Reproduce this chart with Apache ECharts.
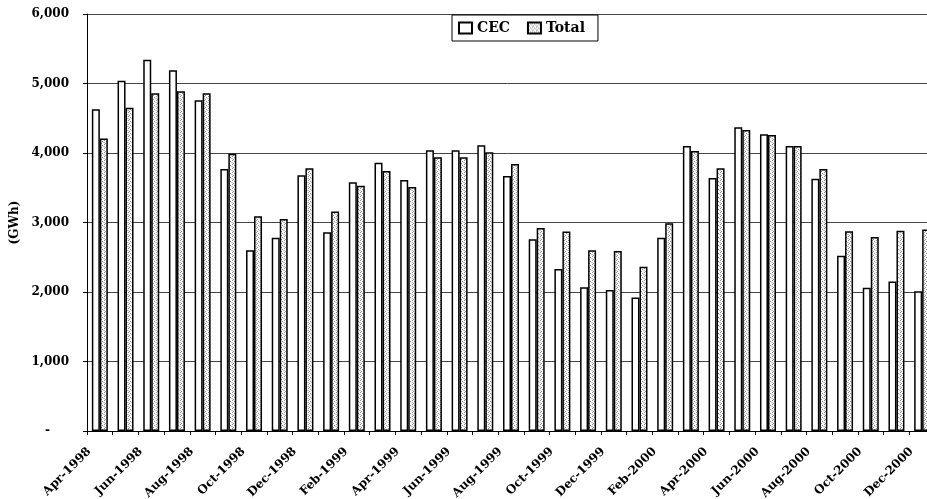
<!DOCTYPE html>
<html>
<head>
<meta charset="utf-8">
<script src="https://cdn.jsdelivr.net/npm/echarts@6/dist/echarts.min.js"></script>
<style>
html,body{margin:0;padding:0;background:#fff;}
#chart{width:927px;height:499px;}
</style>
</head>
<body>
<div id="chart"></div>
<script>
var categories = ['Apr-1998','May-1998','Jun-1998','Jul-1998','Aug-1998','Sep-1998','Oct-1998','Nov-1998','Dec-1998',
  'Jan-1999','Feb-1999','Mar-1999','Apr-1999','May-1999','Jun-1999','Jul-1999','Aug-1999','Sep-1999','Oct-1999','Nov-1999','Dec-1999',
  'Jan-2000','Feb-2000','Mar-2000','Apr-2000','May-2000','Jun-2000','Jul-2000','Aug-2000','Sep-2000','Oct-2000','Nov-2000','Dec-2000'];
var cecValues = [4630,5040,5340,5190,4760,3770,2600,2780,3680,
  2860,3580,3860,3610,4040,4040,4110,3670,2760,2330,2070,2030,
  1920,2780,4100,3640,4370,4270,4100,3630,2520,2060,2150,2010];
var totalValues = [4210,4650,4860,4890,4860,3990,3090,3050,3780,
  3160,3530,3740,3510,3940,3940,4010,3840,2920,2870,2600,2590,
  2365,2990,4030,3780,4330,4260,4100,3770,2875,2790,2880,2900];
var yTicks = [0,1000,2000,3000,4000,5000,6000];

// stipple pattern for the Total series
var pc = document.createElement('canvas');
pc.width = 4; pc.height = 4;
var g = pc.getContext('2d');
g.fillStyle = '#ffffff'; g.fillRect(0,0,4,4);
g.fillStyle = '#8a8a8a'; g.fillRect(0,0,1,1); g.fillRect(2,1,1,1); g.fillRect(1,3,1,1);
g.fillStyle = '#c4c4c4'; g.fillRect(3,2,1,1); g.fillRect(0,2,1,1);

var FONT = 'DejaVu Serif';
var chart = echarts.init(document.getElementById('chart'), null, {renderer:'canvas'});
chart.setOption({
  animation: false,
  backgroundColor: '#ffffff',
  grid: {left: 87, top: 14, width: 848, height: 417, containLabel: false, outerBoundsMode: 'none'},
  legend: {
    left: 452, top: 15,
    itemWidth: 13, itemHeight: 11, itemGap: 17,
    padding: [6, 13, 6, 6],
    borderColor: '#000', borderWidth: 1,
    icon: 'rect',
    textStyle: {fontFamily: FONT, fontWeight: 'bold', fontSize: 14, color: '#000'},
    data: ['CEC', 'Total']
  },
  xAxis: {
    type: 'category',
    data: categories,
    boundaryGap: true,
    axisLine: {lineStyle: {color: '#000', width: 1}},
    axisTick: {show: true, interval: 0, length: 4, lineStyle: {color: '#000'}},
    axisLabel: {interval: 1, rotate: 45, margin: 8, padding: [0, 15, 0, 0],
      fontFamily: FONT, fontWeight: 'bold', fontSize: 12, color: '#000'}
  },
  yAxis: {
    type: 'value',
    min: yTicks[0], max: yTicks[yTicks.length-1], interval: 1000,
    name: '(GWh)', nameLocation: 'middle', nameGap: 48, nameRotate: 90,
    nameTextStyle: {fontFamily: FONT, fontWeight: 'bold', fontSize: 12, color: '#000'},
    axisLine: {show: true, lineStyle: {color: '#000', width: 1}},
    axisTick: {show: true, length: 4, lineStyle: {color: '#000'}},
    splitLine: {show: true, lineStyle: {color: '#444', width: 1}},
    axisLabel: {
      margin: 18,
      fontFamily: FONT, fontWeight: 'bold', fontSize: 12, color: '#000',
      formatter: function (v) {
        if (v === 0) return '{d|-}';
        return v.toString().replace(/\B(?=(\d{3})+(?!\d))/g, ',');
      },
      rich: {d: {fontFamily: FONT, fontWeight: 'bold', fontSize: 12, color: '#000', padding: [0, 19, 0, 0]}}
    }
  },
  series: [
    {
      name: 'CEC', type: 'bar', data: cecValues,
      barWidth: 8, barGap: '0%',
      itemStyle: {color: '#ffffff', borderColor: '#000', borderWidth: 1.5}
    },
    {
      name: 'Total', type: 'bar', data: totalValues,
      barWidth: 8, barGap: '0%',
      itemStyle: {color: {image: pc, repeat: 'repeat'}, borderColor: '#000', borderWidth: 1.5}
    }
  ]
});
</script>
</body>
</html>
